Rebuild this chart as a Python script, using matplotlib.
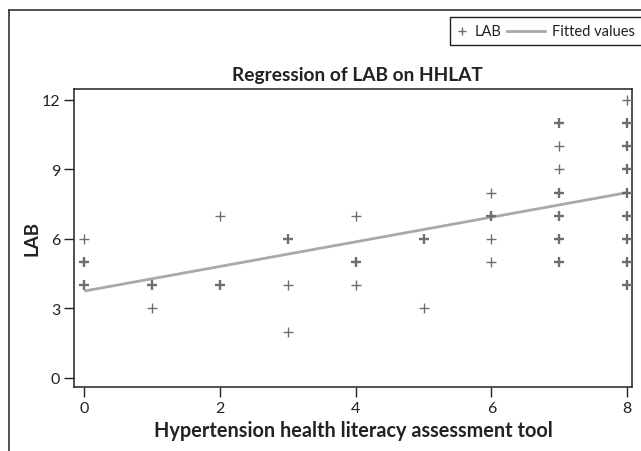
import matplotlib.pyplot as plt
from matplotlib.lines import Line2D
from matplotlib.patches import Rectangle

# LAB observations (x = HHLAT score, y = LAB), n = number of overlapping obs (1 = single)
hhlat = [0, 0, 0, 1, 1, 2, 2, 3, 3, 3, 4, 4, 4, 5, 5,
         6, 6, 6, 6,
         7, 7, 7, 7, 7, 7, 7,
         8, 8, 8, 8, 8, 8, 8, 8, 8]
lab = [4, 5, 6, 3, 4, 4, 7, 2, 4, 6, 4, 5, 7, 3, 6,
       5, 6, 7, 8,
       5, 6, 7, 8, 9, 10, 11,
       4, 5, 6, 7, 8, 9, 10, 11, 12]
n_obs = [2, 2, 1, 1, 2, 2, 1, 1, 1, 2, 1, 2, 1, 1, 2,
         1, 1, 2, 1,
         2, 2, 2, 2, 1, 1, 2,
         2, 2, 2, 2, 2, 2, 2, 2, 1]

# fitted regression line
fit_x = [0, 8]
fit_y = [3.75, 8.0]

xticks = [0, 2, 4, 6, 8]
yticks = [0, 3, 6, 9, 12]

plt.rcParams['font.family'] = ['Lato', 'DejaVu Sans']

W, H = 641, 452
fig = plt.figure(figsize=(W / 100, H / 100), dpi=100)
ax = fig.add_axes([74 / W, 1 - 388 / H, (632 - 74) / W, (388 - 90) / H])

mcol = '#6e6e6e'
fitcol = '#a9a9a9'
txtcol = '#222222'
for x, y, n in zip(hhlat, lab, n_obs):
    ax.plot(x, y, marker='+', ms=7, mew=1.0 if n == 1 else 1.7,
            color=mcol, ls='none', zorder=3)
ax.plot(fit_x, fit_y, color=fitcol, lw=2, zorder=2, solid_capstyle='butt')

ax.set_xlim(-0.15, 8.07)
ax.set_ylim(-0.39, 12.47)
ax.set_xticks(xticks)
ax.set_yticks(yticks)
ax.tick_params(direction='out', length=7, width=1, labelsize=11.5,
               colors=txtcol, pad=3)
for s in ax.spines.values():
    s.set_linewidth(1.1)
    s.set_color(txtcol)

ax.set_xlabel('Hypertension health literacy assessment tool', fontsize=14.3,
              fontweight='bold', color=txtcol, labelpad=4)
ax.set_ylabel('LAB', fontsize=13.5, fontweight='bold', color=txtcol, labelpad=1)

fig.text(357 / W, 1 - 81 / H, 'Regression of LAB on HHLAT', ha='center',
         va='baseline', fontsize=13.8, fontweight='bold', color=txtcol)

# outer graph region border (left and top edges)
fig.add_artist(Line2D([9 / W, 9 / W], [0, 1 - 11 / H], color='#333333', lw=1.2))
fig.add_artist(Line2D([9 / W, 1], [1 - 11 / H, 1 - 11 / H], color='#333333', lw=1.2))

# legend box, running off the right edge like the original
fig.add_artist(Rectangle((450 / W, 1 - 46 / H), 200 / W, 28 / H, fill=False,
                         edgecolor=txtcol, lw=1))
ly = 1 - 32 / H
fig.add_artist(Line2D([462 / W], [ly], marker='+', ms=6, mew=1, color=mcol))
fig.text(475 / W, ly, 'LAB', ha='left', va='center', fontsize=10.5, color=txtcol)
fig.add_artist(Line2D([507 / W, 545 / W], [ly, ly], color=fitcol, lw=2))
fig.text(552 / W, ly, 'Fitted values', ha='left', va='center', fontsize=10.5,
         color=txtcol)

fig.savefig('out.png', dpi=100)
